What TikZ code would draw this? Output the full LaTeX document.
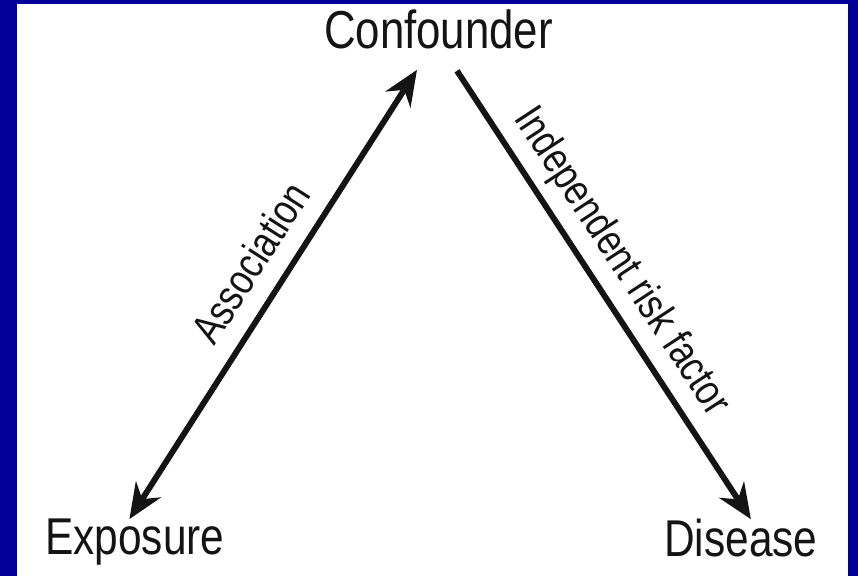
\documentclass[tikz,border=0pt]{standalone}
\usepackage{fontspec}
\newfontfamily\diagfont[FakeStretch=0.82]{Liberation Sans}
\usetikzlibrary{arrows.meta}
\definecolor{framenavy}{RGB}{0,0,153}
\definecolor{inkblack}{RGB}{20,20,20}
\tikzset{
  base/.style={font=\diagfont, inner sep=0pt, text=inkblack},
  term/.style={base, font=\diagfont\fontsize{36.8}{42}\selectfont},
  lbl/.style={base, font=\diagfont\fontsize{30.6}{35}\selectfont, text depth=0pt},
  arr/.style={-{Stealth[length=25pt,width=21pt]}, line width=4.2pt, draw=inkblack},
  arr2/.style={arr, {Stealth[length=25pt,width=21pt]}-{Stealth[length=25pt,width=21pt]}},
}
\begin{document}
\begin{tikzpicture}[x=0.025cm, y=-0.025cm]
  % frame
  \fill[framenavy] (0,0) rectangle (858,576);
  \fill[white] (17,4) rectangle (848,576);
  % terms
  \node[term, anchor=base, font=\diagfont\fontsize{38}{43}\selectfont] (conf) at (438.5,49) {Confounder};
  \node[term, anchor=base west] (expo) at (45,555) {Exposure};
  \node[term, anchor=base west] (dis) at (664,557) {Disease};
  % links
  \draw[arr2] ([shift={(-5.5,0)}]expo.north) -- ([shift={(-21.5,20)}]conf.south)
    node[lbl, pos=0.527, sloped, above=13pt] (assoc) {Association};
  \draw[arr] ([shift={(18.5,21)}]conf.south) -- ([shift={(10,0)}]dis.north)
    node[lbl, pos=0.466, sloped, above=13pt] (risk) {Independent risk factor};
\end{tikzpicture}
\end{document}
